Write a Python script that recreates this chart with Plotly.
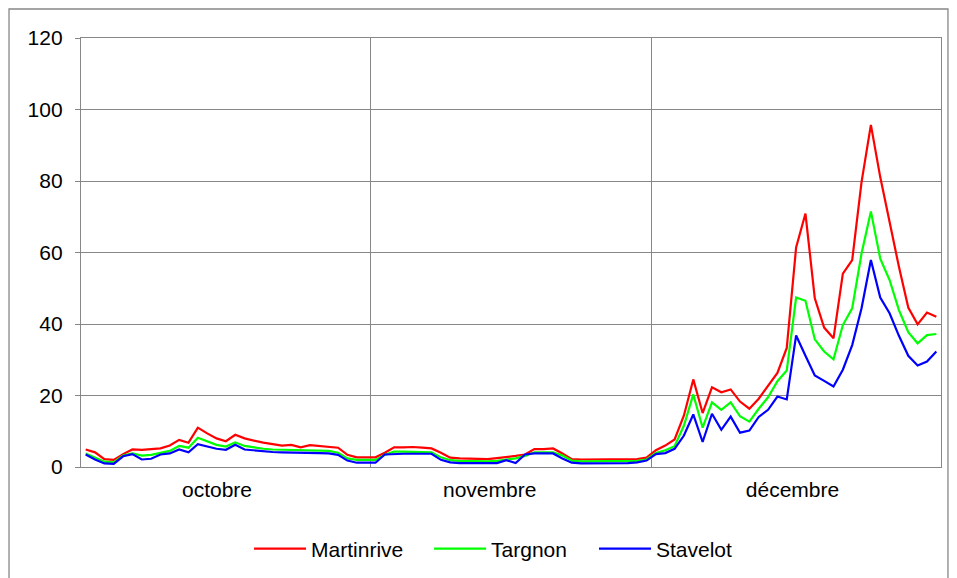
import plotly.graph_objects as go

# ---- data -------------------------------------------------------------
months = ["octobre", "novembre", "décembre"]
days_per_month = [31, 30, 31]

martinrive_oct = [4.9, 4.1, 2.2, 2.0, 3.6, 4.9, 4.8, 4.9, 5.2, 6.0, 7.6, 6.8, 11.0, 9.4, 8.0, 7.2,
                  9.0, 8.0, 7.3, 6.8, 6.4, 6.0, 6.2, 5.5, 6.1, 5.8, 5.7, 5.4, 3.4, 2.7, 2.7]
martinrive_nov = [2.7, 4.0, 5.5, 5.5, 5.6, 5.4, 5.2, 4.0, 2.6, 2.4, 2.3, 2.2, 2.2, 2.5, 2.7,
                  3.1, 3.5, 5.0, 5.0, 5.2, 3.8, 2.2, 2.1, 2.1, 2.1, 2.1, 2.1, 2.1, 2.2, 2.6]
martinrive_dec = [4.7, 6.0, 7.7, 14.4, 24.5, 15.1, 22.3, 20.9, 21.7, 18.3, 16.3, 19.1, 22.8, 26.3,
                  33.3, 61.4, 70.9, 47.2, 39.0, 36.0, 54.1, 57.9, 79.7, 95.7, 81.1, 68.1, 56.0,
                  44.6, 39.9, 43.2, 42.0]

targnon_oct = [3.8, 2.7, 1.5, 1.3, 3.2, 3.8, 3.2, 3.4, 4.0, 4.5, 5.9, 5.4, 8.2, 7.1, 6.2, 5.7,
               6.9, 5.9, 5.4, 5.1, 4.9, 4.8, 4.8, 4.8, 4.7, 4.6, 4.5, 4.0, 2.4, 2.0, 2.0]
targnon_nov = [2.0, 3.4, 4.3, 4.3, 4.3, 4.3, 4.1, 2.7, 1.9, 1.7, 1.6, 1.6, 1.6, 1.7, 2.0,
               2.4, 3.1, 4.1, 4.1, 4.1, 3.2, 1.8, 1.6, 1.6, 1.6, 1.6, 1.6, 1.6, 1.7, 2.1]
targnon_dec = [3.9, 4.7, 5.8, 11.6, 20.3, 11.0, 18.1, 16.0, 18.1, 14.2, 12.7, 16.3, 19.5, 24.0,
               27.0, 47.4, 46.5, 35.7, 32.3, 30.1, 39.7, 44.4, 59.7, 71.5, 58.3, 52.3, 43.9,
               37.7, 34.6, 36.9, 37.2]

stavelot_oct = [3.5, 2.1, 1.0, 0.9, 3.0, 3.6, 2.1, 2.3, 3.5, 3.8, 4.9, 4.1, 6.4, 5.7, 5.1, 4.8,
                6.2, 4.9, 4.6, 4.4, 4.2, 4.1, 4.1, 4.0, 4.0, 3.9, 3.8, 3.4, 1.8, 1.2, 1.2]
stavelot_nov = [1.2, 3.5, 3.7, 3.7, 3.7, 3.7, 3.7, 2.0, 1.3, 1.1, 1.1, 1.1, 1.1, 1.1, 1.9,
                1.1, 3.5, 3.8, 3.8, 3.8, 2.4, 1.2, 1.0, 1.0, 1.0, 1.0, 1.0, 1.1, 1.3, 1.8]
stavelot_dec = [3.6, 3.9, 5.1, 8.8, 14.7, 7.0, 14.9, 10.4, 14.1, 9.6, 10.2, 14.0, 16.0, 19.7,
                18.9, 36.8, 31.1, 25.6, 24.1, 22.5, 27.2, 34.1, 44.4, 57.9, 47.4, 43.0, 36.7,
                31.1, 28.4, 29.5, 32.3]

y_ticks = [0, 20, 40, 60, 80, 100, 120]

# ---- build ------------------------------------------------------------
series = [
    ("Martinrive", martinrive_oct + martinrive_nov + martinrive_dec, "#FF0000"),
    ("Targnon", targnon_oct + targnon_nov + targnon_dec, "#00FF00"),
    ("Stavelot", stavelot_oct + stavelot_nov + stavelot_dec, "#0000FF"),
]
n_days = sum(days_per_month)
x = [i + 0.5 for i in range(n_days)]  # category slot centres
boundaries = [sum(days_per_month[:k]) for k in range(len(days_per_month) + 1)]

GRAY = "#878787"
FONT = "Liberation Sans, Arial, sans-serif"
legend_ids = ["legend", "legend2", "legend3"]
legend_x = [0.2540, 0.4437, 0.6175]

fig = go.Figure()
for (name, vals, col), lid in zip(series, legend_ids):
    fig.add_trace(go.Scatter(x=x, y=vals, name=name, mode="lines", legend=lid,
                             line=dict(color=col, width=2.2)))

legend_common = dict(orientation="h", xanchor="left", xref="container", yref="container",
                     y=0.0509, yanchor="middle",
                     font=dict(size=21, color="black"), itemwidth=52,
                     bgcolor="rgba(0,0,0,0)")

fig.update_layout(
    width=949, height=570,
    margin=dict(l=73, r=16, t=30, b=111),
    paper_bgcolor="white", plot_bgcolor="white",
    font=dict(family=FONT, size=21, color="black"),
    showlegend=True,
    legend=dict(x=legend_x[0], **legend_common),
    legend2=dict(x=legend_x[1], **legend_common),
    legend3=dict(x=legend_x[2], **legend_common),
    xaxis=dict(
        range=[0, n_days],
        tickmode="array",
        tickvals=[14.55, 43.72, 76.11],
        ticktext=months,
        ticks="", showgrid=False, zeroline=False,
        showline=True, linecolor=GRAY, linewidth=1.3, mirror=True,
        minor=dict(tickmode="array", tickvals=boundaries[1:-1], showgrid=True,
                   gridcolor=GRAY, gridwidth=1.3, ticks=""),
        ticklabelstandoff=4,
    ),
    yaxis=dict(
        range=[0, 120],
        tickmode="array", tickvals=y_ticks,
        ticks="outside", ticklen=5, tickcolor=GRAY, tickwidth=1.3,
        showgrid=True, gridcolor=GRAY, gridwidth=1.3, zeroline=False,
        showline=True, linecolor=GRAY, linewidth=1.3, mirror=True,
        ticklabelstandoff=8,
    ),
)

# outer chart-area border
fig.add_shape(type="rect", xref="paper", yref="paper",
              x0=-0.0837, x1=1.0081, y0=-0.27, y1=1.0676,
              line=dict(color=GRAY, width=1.3), fillcolor="rgba(0,0,0,0)", layer="below")

fig.write_html("out.html")
